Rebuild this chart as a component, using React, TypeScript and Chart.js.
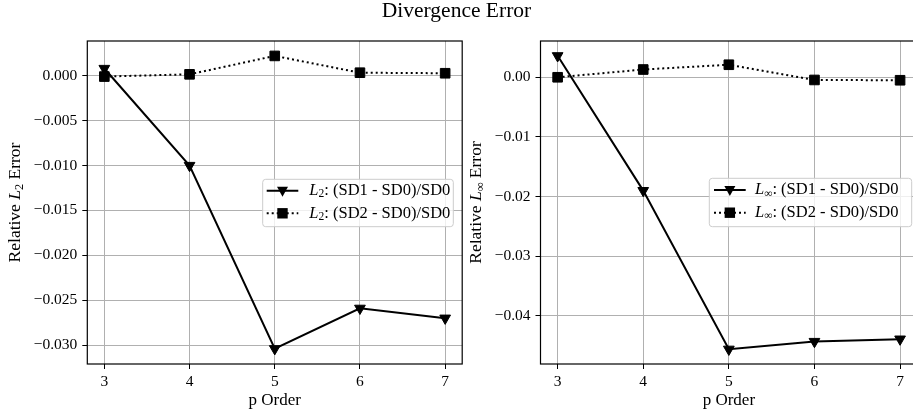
import React, { useEffect, useRef } from 'react';
import { Chart, registerables } from 'chart.js';

Chart.register(...registerables);

// ---------- data ----------
const pOrders = [3, 4, 5, 6, 7];
const l2SD1 = [0.0008, -0.0100, -0.0304, -0.0259, -0.0270];
const l2SD2 = [-0.0001, 0.00015, 0.0022, 0.00033, 0.00027];
const linfSD1 = [0.0036, -0.0190, -0.0456, -0.0443, -0.0439];
const linfSD2 = [0.0, 0.0013, 0.0021, -0.00045, -0.0005];
const l2Ticks = [0, -0.005, -0.01, -0.015, -0.02, -0.025, -0.03];
const linfTicks = [0, -0.01, -0.02, -0.03, -0.04];
const seriesLabels = [': (SD1 - SD0)/SD0', ': (SD2 - SD0)/SD0'];
const titleText = 'Divergence Error';
const xTitle = 'p Order';

const FONT = '"Liberation Serif", "Times New Roman", serif';

const fmt = (v: number, d: number) => {
  const s = Math.abs(v).toFixed(d);
  return (v < -1e-12 ? '\u2212' : '') + s;
};

function drawMathLabel(ctx: CanvasRenderingContext2D, x: number, y: number, sub: string, rest: string, size: number, pre = '') {
  ctx.fillStyle = '#000';
  ctx.textBaseline = 'middle';
  ctx.textAlign = 'left';
  let cx = x;
  if (pre) {
    ctx.font = `${size}px ${FONT}`;
    ctx.fillText(pre, cx, y);
    cx += ctx.measureText(pre).width;
  }
  ctx.font = `italic ${size}px ${FONT}`;
  ctx.fillText('L', cx, y);
  cx += ctx.measureText('L').width;
  ctx.font = `${size * 0.7}px ${FONT}`;
  ctx.fillText(sub, cx, y + size * 0.22);
  cx += ctx.measureText(sub).width;
  ctx.font = `${size}px ${FONT}`;
  ctx.fillText(rest, cx, y);
}

function measureMathLabel(ctx: CanvasRenderingContext2D, sub: string, rest: string, size: number, pre = '') {
  let w = 0;
  ctx.font = `${size}px ${FONT}`;
  w += ctx.measureText(pre).width + ctx.measureText(rest).width;
  ctx.font = `italic ${size}px ${FONT}`;
  w += ctx.measureText('L').width;
  ctx.font = `${size * 0.7}px ${FONT}`;
  w += ctx.measureText(sub).width;
  return w;
}

type PanelCfg = {
  offsetX: number;
  width: number;
  yWidth: number;
  padRight: number;
  sd1: number[];
  sd2: number[];
  yTicks: number[];
  yMin: number;
  yMax: number;
  dec: number;
  sub: string;
  yTitleX: number;
  legend: { x0: number; y0: number; x1: number; y1: number; r1: number; r2: number; s0: number; s1: number; tx: number };
};

const LW = 2;
const DASH = [2, 3];

function Panel({ cfg }: { cfg: PanelCfg }) {
  const ref = useRef<HTMLCanvasElement | null>(null);
  useEffect(() => {
    const canvas = ref.current!;
    const frame = {
      id: 'frameAndLegend',
      afterDraw(chart: any) {
        const ctx = chart.ctx as CanvasRenderingContext2D;
        const a = chart.chartArea;
        ctx.save();
        ctx.strokeStyle = '#000';
        ctx.lineWidth = 1.2;
        ctx.strokeRect(a.left, a.top, a.right - a.left, a.bottom - a.top);

        // y-axis title
        const cy = (a.top + a.bottom) / 2;
        ctx.save();
        ctx.translate(cfg.yTitleX - cfg.offsetX, cy);
        ctx.rotate(-Math.PI / 2);
        const tw = measureMathLabel(ctx, cfg.sub, ' Error', 17.5, 'Relative ');
        drawMathLabel(ctx, -tw / 2, 0, cfg.sub, ' Error', 17.5, 'Relative ');
        ctx.restore();

        // legend
        const L = cfg.legend;
        const ox = cfg.offsetX;
        const x0 = L.x0 - ox, x1 = L.x1 - ox;
        ctx.beginPath();
        const r = 3;
        ctx.moveTo(x0 + r, L.y0);
        ctx.arcTo(x1, L.y0, x1, L.y1, r);
        ctx.arcTo(x1, L.y1, x0, L.y1, r);
        ctx.arcTo(x0, L.y1, x0, L.y0, r);
        ctx.arcTo(x0, L.y0, x1, L.y0, r);
        ctx.closePath();
        ctx.fillStyle = 'rgba(255,255,255,0.8)';
        ctx.fill();
        ctx.strokeStyle = '#cccccc';
        ctx.lineWidth = 1;
        ctx.stroke();

        const s0 = L.s0 - ox, s1 = L.s1 - ox, sc = (s0 + s1) / 2;
        // row 1: solid + triangle
        ctx.strokeStyle = '#000';
        ctx.fillStyle = '#000';
        ctx.lineWidth = LW;
        ctx.setLineDash([]);
        ctx.beginPath();
        ctx.moveTo(s0, L.r1);
        ctx.lineTo(s1, L.r1);
        ctx.stroke();
        ctx.beginPath();
        ctx.moveTo(sc - 5.5, L.r1 - 4);
        ctx.lineTo(sc + 5.5, L.r1 - 4);
        ctx.lineTo(sc, L.r1 + 6);
        ctx.closePath();
        ctx.fill();
        // row 2: dotted + square
        ctx.setLineDash(DASH);
        ctx.beginPath();
        ctx.moveTo(s0, L.r2);
        ctx.lineTo(s1, L.r2);
        ctx.stroke();
        ctx.setLineDash([]);
        ctx.fillRect(sc - 5.2, L.r2 - 5.2, 10.4, 10.4);

        drawMathLabel(ctx, L.tx - ox, L.r1, cfg.sub, seriesLabels[0], 16.5);
        drawMathLabel(ctx, L.tx - ox, L.r2, cfg.sub, seriesLabels[1], 16.5);
        ctx.restore();
      },
    };

    const gridOpts = {
      color: '#b0b0b0',
      lineWidth: 1,
      tickColor: '#000',
      tickLength: 5,
      drawTicks: true,
    };

    const chart = new Chart(canvas, {
      type: 'line',
      data: {
        datasets: [
          {
            data: pOrders.map((x, i) => ({ x, y: cfg.sd1[i] })),
            borderColor: '#000',
            backgroundColor: '#000',
            borderWidth: LW,
            pointStyle: 'triangle',
            pointRotation: 180,
            pointRadius: 6.2,
            pointBackgroundColor: '#000',
            pointBorderColor: '#000',
            pointBorderWidth: 1,
            order: 1,
            clip: false,
          } as any,
          {
            data: pOrders.map((x, i) => ({ x, y: cfg.sd2[i] })),
            borderColor: '#000',
            backgroundColor: '#000',
            borderWidth: LW,
            borderDash: DASH,
            pointStyle: 'rect',
            pointRadius: 6.8,
            pointBackgroundColor: '#000',
            pointBorderColor: '#000',
            pointBorderWidth: 1,
            order: 0,
            clip: false,
          } as any,
        ],
      },
      options: {
        animation: false,
        responsive: false,
        devicePixelRatio: 1,
        events: [],
        layout: { padding: { top: 41, right: cfg.padRight, left: 0, bottom: 0 } },
        plugins: { legend: { display: false }, tooltip: { enabled: false }, title: { display: false } },
        scales: {
          x: {
            type: 'linear',
            min: 2.8,
            max: 7.2,
            afterBuildTicks: (s: any) => {
              s.ticks = pOrders.map((v) => ({ value: v }));
            },
            afterFit: (s: any) => {
              s.height = 50;
            },
            ticks: {
              color: '#000',
              font: { family: FONT, size: 15.5 },
              padding: 4,
              callback: (v: any) => String(v),
              maxRotation: 0,
            },
            grid: gridOpts,
            border: { display: false },
            title: {
              display: true,
              text: xTitle,
              color: '#000',
              font: { family: FONT, size: 17 },
              padding: { top: 0, bottom: 3 },
            },
          },
          y: {
            type: 'linear',
            min: cfg.yMin,
            max: cfg.yMax,
            afterBuildTicks: (s: any) => {
              s.ticks = cfg.yTicks.map((v) => ({ value: v }));
            },
            afterFit: (s: any) => {
              s.width = cfg.yWidth;
            },
            ticks: {
              color: '#000',
              font: { family: FONT, size: 15.5 },
              padding: 5,
              callback: (v: any) => fmt(Number(v), cfg.dec),
            },
            grid: gridOpts,
            border: { display: false },
          },
        },
      } as any,
      plugins: [frame],
    });
    return () => chart.destroy();
  }, [cfg]);

  return (
    <canvas
      ref={ref}
      width={cfg.width}
      height={414}
      style={{ position: 'absolute', left: cfg.offsetX, top: 0, width: cfg.width, height: 414 }}
    />
  );
}

const leftCfg: PanelCfg = {
  offsetX: 0,
  width: 470,
  yWidth: 87.3,
  padRight: 5,
  sd1: l2SD1,
  sd2: l2SD2,
  yTicks: l2Ticks,
  yMin: -0.0321,
  yMax: 0.00386,
  dec: 3,
  sub: '2',
  yTitleX: 15.5,
  legend: { x0: 262.7, y0: 179.3, x1: 453.3, y1: 226.7, r1: 190.7, r2: 213.3, s0: 266.7, s1: 298.3, tx: 309.3 },
};

const rightCfg: PanelCfg = {
  offsetX: 470,
  width: 455,
  yWidth: 70.5,
  padRight: 7,
  sd1: linfSD1,
  sd2: linfSD2,
  yTicks: linfTicks,
  yMin: -0.04807,
  yMax: 0.00608,
  dec: 2,
  sub: '\u221E',
  yTitleX: 476.5,
  legend: { x0: 709.3, y0: 178.3, x1: 911.7, y1: 226.7, r1: 190, r2: 212.7, s0: 714, s1: 745.7, tx: 755 },
};

export default function App() {
  return (
    <div
      style={{
        position: 'fixed',
        left: 0,
        top: 0,
        width: 913,
        height: 414,
        overflow: 'hidden',
        background: '#fff',
      }}
    >
      <Panel cfg={leftCfg} />
      <Panel cfg={rightCfg} />
      <div
        style={{
          position: 'absolute',
          left: 0,
          top: 0,
          width: 913,
          textAlign: 'center',
          fontFamily: FONT,
          fontSize: 21.5,
          lineHeight: '21px',
          color: '#000',
        }}
      >
        {titleText}
      </div>
    </div>
  );
}
